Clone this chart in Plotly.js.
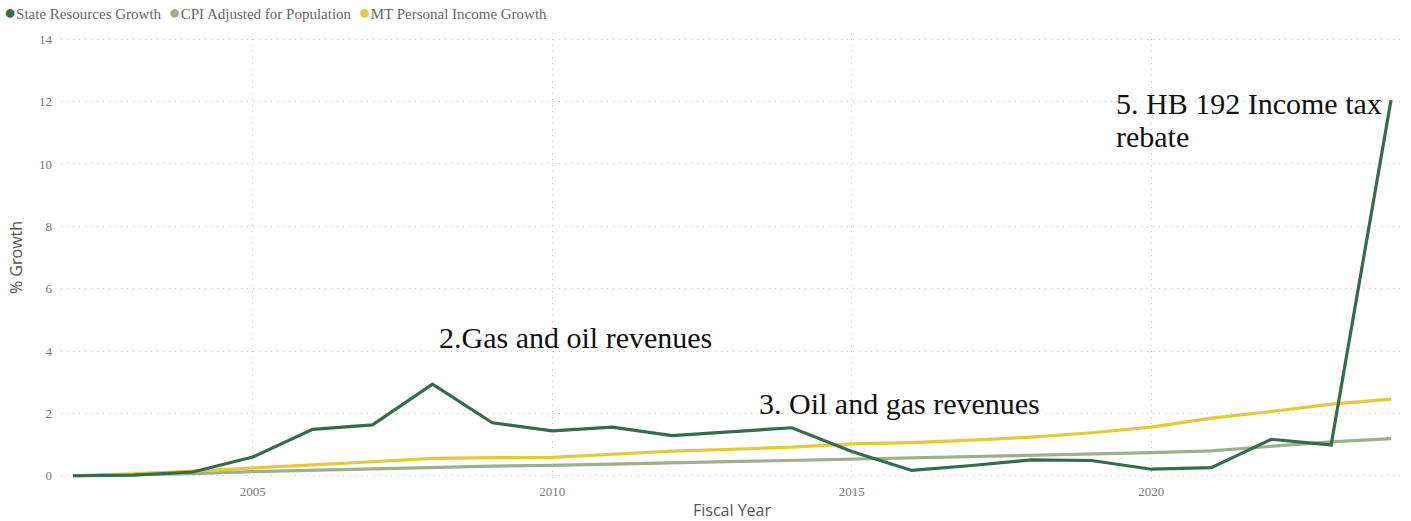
<!DOCTYPE html>
<html>
<head>
<meta charset="utf-8">
<script src="https://cdn.plot.ly/plotly-3.0.1.min.js"></script>
<style>html,body{margin:0;padding:0;background:#fff;}#chart{width:1411px;height:521px;}</style>
</head>
<body>
<div id="chart"></div>
<script>
const years = [2002,2003,2004,2005,2006,2007,2008,2009,2010,2011,2012,2013,2014,2015,2016,2017,2018,2019,2020,2021,2022,2023,2024];
const stateResources = [0,0.02,0.12,0.6,1.49,1.63,2.94,1.70,1.44,1.56,1.29,1.42,1.54,0.78,0.17,0.33,0.51,0.49,0.21,0.26,1.17,0.99,12.05];
const cpiAdjusted = [0,0.03,0.07,0.13,0.18,0.23,0.28,0.31,0.33,0.37,0.42,0.46,0.49,0.52,0.56,0.60,0.64,0.69,0.74,0.80,0.95,1.09,1.19];
const mtIncome = [0,0.06,0.15,0.24,0.35,0.45,0.56,0.58,0.59,0.69,0.79,0.85,0.92,1.02,1.06,1.14,1.24,1.38,1.56,1.85,2.06,2.30,2.46];
const seriesNames = ["State Resources Growth","CPI Adjusted for Population","MT Personal Income Growth"];
const seriesColors = ["#346B4C","#9DB08A","#E6C838"];
const yTicks = [0,2,4,6,8,10,12,14];
const xTicks = [2005,2010,2015,2020];
const notes = [
  {text:"2.Gas and oil revenues", x:2008.07, y:4.45},
  {text:"3. Oil and gas revenues", x:2013.41, y:2.31},
  {text:"5. HB 192 Income tax", x:2019.37, y:11.93},
  {text:"rebate", x:2019.37, y:10.87}
];

const seriesData = [stateResources, cpiAdjusted, mtIncome];
const traces = [];
[1,2,0].forEach(i => {
  traces.push({x:years, y:seriesData[i], type:'scatter', mode:'lines', name:seriesNames[i],
    line:{color:seriesColors[i], width:3.2}, showlegend:false});
});

// legend built as a single text line with coloured dots
const legendText = seriesNames.map((n,i) =>
  `<span style="color:${seriesColors[i]};font-size:20px">●</span>${n}`).join('&nbsp;&nbsp;');

const annotations = notes.map(a => ({x:a.x, y:a.y, xref:'x', yref:'y', text:a.text, showarrow:false,
    xanchor:'left', yanchor:'middle', align:'left',
    font:{family:'Liberation Serif, serif', size:30, color:'#111'}}));
annotations.push({x:(2-61)/1342, y:1+(33-12)/449, xref:'paper', yref:'paper', xanchor:'left', yanchor:'middle',
  showarrow:false, align:'left', text:legendText,
  font:{family:'Liberation Serif, serif', size:15, color:'#666'}});

const layout = {
  width:1411, height:521,
  margin:{l:61, r:8, t:33, b:39},
  paper_bgcolor:'#fff', plot_bgcolor:'#fff',
  showlegend:false,
  xaxis:{range:[2001.8,2024.2], tickvals:xTicks, ticktext:xTicks.map(String), showgrid:true,
    gridcolor:'#c4c4c4', griddash:'1px,5px', gridwidth:1, zeroline:false, showline:false, ticks:'',
    tickfont:{family:'Liberation Serif, serif', size:13, color:'#777'},
    title:{text:'Fiscal Year', font:{family:'Open Sans, sans-serif', size:16, color:'#555'}, standoff:6}},
  yaxis:{range:[-0.2,14.2], tickvals:yTicks, ticktext:yTicks.map(String), showgrid:true,
    gridcolor:'#c4c4c4', griddash:'1px,5px', gridwidth:1, zeroline:false, showline:false, ticks:'',
    ticklabelstandoff:8,
    tickfont:{family:'Liberation Serif, serif', size:13, color:'#777'},
    title:{text:'% Growth', font:{family:'Open Sans, sans-serif', size:16, color:'#555'}, standoff:12}},
  annotations: annotations
};
Plotly.newPlot('chart', traces, layout, {displayModeBar:false, staticPlot:true});
</script>
</body>
</html>
